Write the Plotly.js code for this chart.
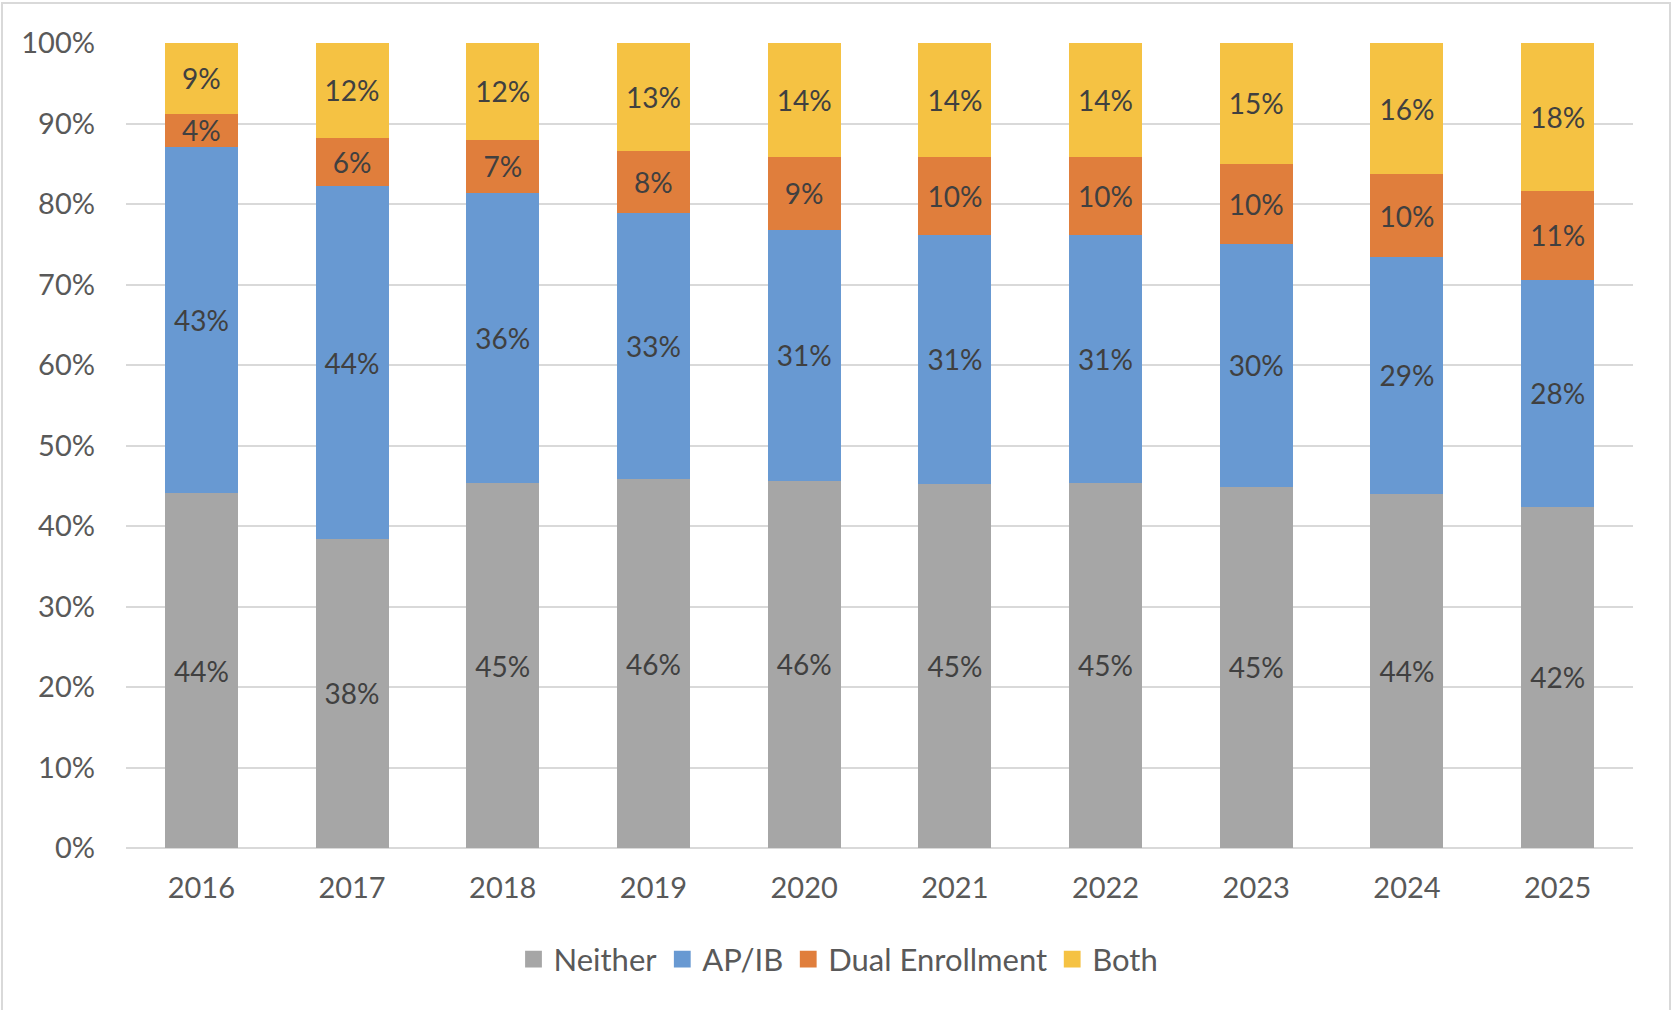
<!DOCTYPE html>
<html>
<head>
<meta charset="utf-8">
<script src="https://cdn.plot.ly/plotly-3.0.1.min.js"></script>
<style>
  html, body { margin: 0; padding: 0; background: #ffffff; }
  #wrap { position: relative; width: 1677px; height: 1010px; overflow: hidden; }
  #chart { position: absolute; left: 0; top: 0; width: 1677px; height: 1010px; }
  #frame { position: absolute; left: 1px; top: 2px; width: 1670px; height: 1100px;
           border: 2px solid #d9d9d9; pointer-events: none; box-sizing: border-box; }
</style>
</head>
<body>
<div id="wrap">
  <div id="chart"></div>
  <div id="frame"></div>
</div>
<script>
const years = ['2016','2017','2018','2019','2020','2021','2022','2023','2024','2025'];
const neither = [44.1, 38.4, 45.3, 45.8, 45.6, 45.2, 45.4, 44.9, 44.0, 42.4];
const apib    = [43.0, 43.8, 36.1, 33.1, 31.2, 31.0, 30.8, 30.1, 29.4, 28.2];
const dual    = [4.1, 6.0, 6.6, 7.7, 9.1, 9.6, 9.7, 10.0, 10.3, 11.0];
const both    = [8.8, 11.8, 12.0, 13.4, 14.1, 14.2, 14.1, 15.0, 16.3, 18.4];
const yTicks  = [0,10,20,30,40,50,60,70,80,90,100];
const yTickText = yTicks.map(v => v + '%');

const FONT = 'Lato, "Open Sans", sans-serif';

function series(name, vals, color) {
  return {
    type: 'bar', name: name, x: years, y: vals,
    marker: { color: color, line: { width: 0 } },
    texttemplate: '%{y:.0f}%',
    textposition: 'inside',
    insidetextanchor: 'middle',
    textangle: 0,
    constraintext: 'none',
    textfont: { family: FONT, size: 28, color: '#404040' },
    hoverinfo: 'skip'
  };
}

const data = [
  series('Neither', neither, '#a6a6a6'),
  series('AP/IB', apib, '#6899d2'),
  series('Dual Enrollment', dual, '#e07e3c'),
  series('Both', both, '#f5c243')
];

const layout = {
  width: 1677, height: 1010,
  margin: { l: 126, r: 44, t: 43, b: 162 },
  paper_bgcolor: '#ffffff', plot_bgcolor: '#ffffff',
  barmode: 'stack',
  bargap: 0.515,
  font: { family: FONT, size: 29, color: '#595959' },
  showlegend: true,
  legend: {
    orientation: 'h', traceorder: 'normal',
    xref: 'container', yref: 'container',
    x: 0.5, xanchor: 'center', y: 0.05, yanchor: 'middle',
    font: { family: FONT, size: 31, color: '#595959' },
    itemwidth: 30
  },
  xaxis: {
    type: 'category', showgrid: false, zeroline: false,
    showline: false, ticks: '', ticklabelstandoff: 20,
    tickfont: { family: FONT, size: 29, color: '#595959' }
  },
  yaxis: {
    range: [0, 100], tickmode: 'array', tickvals: yTicks, ticktext: yTickText,
    showgrid: true, gridcolor: '#d9d9d9', gridwidth: 2,
    zeroline: true, zerolinecolor: '#d9d9d9', zerolinewidth: 2,
    showline: false, ticks: '', ticklabelstandoff: 30,
    tickfont: { family: FONT, size: 29, color: '#595959' }
  }
};

Plotly.newPlot('chart', data, layout, { displayModeBar: false, staticPlot: true }).then(function (gd) {
  gd.querySelectorAll('.legend .legendpoints path').forEach(function (p) {
    const t = p.getAttribute('transform') || '';
    p.setAttribute('transform', t + ' scale(1.4)');
  });
});
</script>
</body>
</html>
